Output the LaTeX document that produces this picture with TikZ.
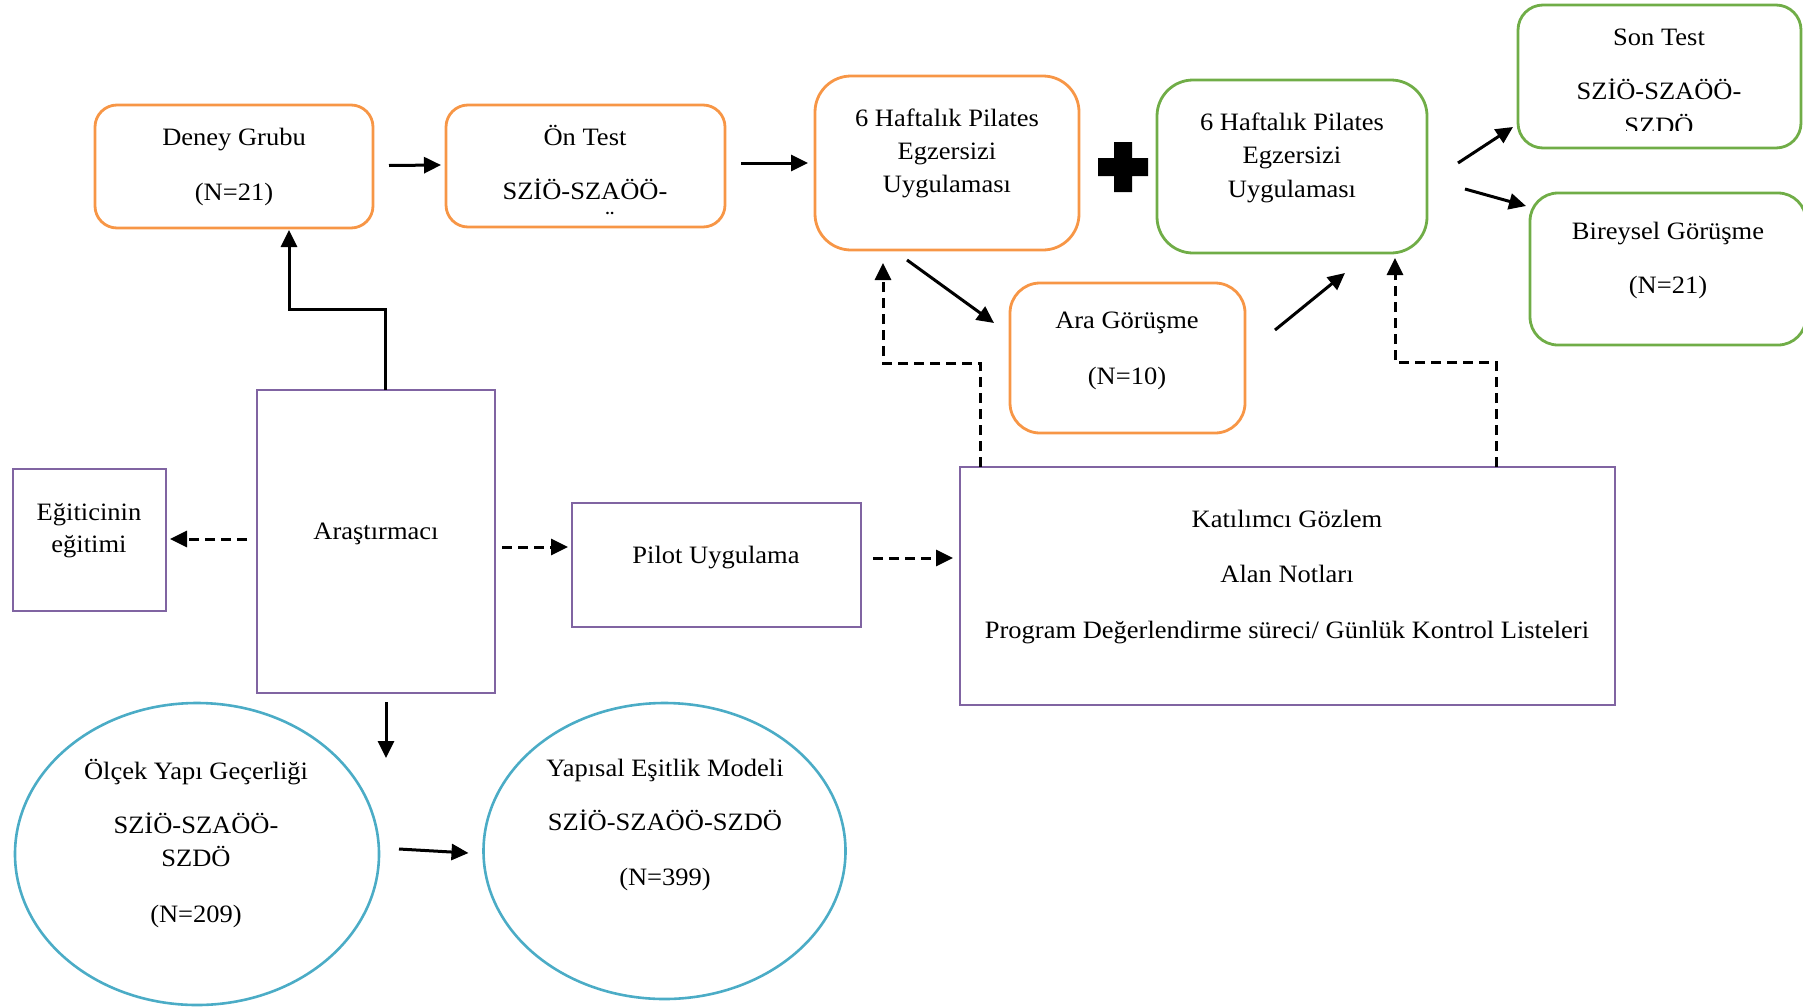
\documentclass[tikz,border=0pt]{standalone}
\usepackage{fontspec}
\setmainfont{Liberation Serif}[FakeStretch=1.06]
\usetikzlibrary{arrows.meta,calc,shapes.geometric}
\definecolor{borange}{HTML}{F79646}
\definecolor{bgreen}{HTML}{70AD47}
\definecolor{bpurple}{HTML}{8064A2}
\definecolor{bblue}{HTML}{4BACC6}
\tikzset{
  box/.style={draw, line width=2.8pt, outer sep=0pt, inner sep=0pt, fill=none},
  obox/.style={box, draw=borange, rectangle, rounded corners=#1},
  gbox/.style={box, draw=bgreen, rectangle, rounded corners=#1},
  pbox/.style={box, draw=bpurple, rectangle},
  bell/.style={box, draw=bblue, ellipse, line width=2.6pt},
  txt/.style={anchor=base, inner sep=0pt, outer sep=0pt},
  arr/.style={line width=3pt, -{Triangle[length=17pt,width=16pt]}},
  darr/.style={arr, dash pattern=on 10pt off 6pt}
}
\begin{document}
\begin{tikzpicture}[x=1pt, y=-1pt, font=\fontsize{25}{33}\selectfont]
\useasboundingbox (0,0) rectangle (1803,1007);

% ---- boxes ----
\node[obox=22pt, minimum width=278pt, minimum height=123pt] (deney) at (234,166.5) {};
\node[obox=22pt, minimum width=279pt, minimum height=122pt] (ontest) at (585.5,166) {};
\node[obox=36pt, minimum width=264pt, minimum height=174pt] (h1) at (947,163) {};
\node[gbox=36pt, minimum width=270pt, minimum height=173pt] (h2) at (1292,166.5) {};
\node[obox=30pt, minimum width=235pt, minimum height=150pt] (ara) at (1127.5,358) {};
\node[gbox=25pt, minimum width=283pt, minimum height=143pt] (son) at (1659.5,76.5) {};
\node[gbox=28pt, minimum width=276pt, minimum height=152pt] (bir) at (1668,269) {};

\node[pbox, minimum width=238pt, minimum height=303pt] (arst) at (376,541.5) {};
\node[pbox, minimum width=153pt, minimum height=142pt] (egit) at (89.5,540) {};
\node[pbox, minimum width=289pt, minimum height=124pt] (pilot) at (716.5,565) {};
\node[pbox, minimum width=655pt, minimum height=238pt] (kat) at (1287.5,586) {};

\node[bell, minimum width=364pt, minimum height=302pt] (olcek) at (197,854) {};
\node[bell, minimum width=362pt, minimum height=296pt] (yap) at (664.5,851) {};

% ---- plus sign between the two programme boxes ----
\fill (1114,142) -- (1132,142) -- (1132,158) -- (1148,158) -- (1148,176)
      -- (1132,176) -- (1132,192) -- (1114,192) -- (1114,176) -- (1098,176)
      -- (1098,158) -- (1114,158) -- cycle;

% ---- texts ----
\node[txt] (deney1) at (234,145) {Deney Grubu};
\node[txt] (deney2) at (234,200) {(N=21)};

\node[txt] (on1) at (585,145) {Ön Test};
\node[txt] (on2) at (585,199) {SZİÖ-SZAÖÖ-};
\begin{scope}
  \clip (446,100) rectangle (725,214);
  \node[txt] (on3) at (585,232) {SZDÖ};
\end{scope}

\node[txt] (ha1) at (947,126) {6 Haftalık Pilates};
\node[txt] (ha2) at (947,159) {Egzersizi};
\node[txt] (ha3) at (947,192) {Uygulaması};

\node[txt] (hb1) at (1292,130) {6 Haftalık Pilates};
\node[txt] (hb2) at (1292,163) {Egzersizi};
\node[txt] (hb3) at (1292,197) {Uygulaması};

\node[txt] (ar1) at (1127,328) {Ara Görüşme};
\node[txt] (ar2) at (1127,384) {(N=10)};

\node[txt] (so1) at (1659,45) {Son Test};
\node[txt] (so2) at (1659,99) {SZİÖ-SZAÖÖ-};
\begin{scope}
  \clip (1518,0) rectangle (1801,130);
  \node[txt] (so3) at (1659,134) {SZDÖ};
\end{scope}

\node[txt] (bi1) at (1668,239) {Bireysel Görüşme};
\node[txt] (bi2) at (1668,293) {(N=21)};

\node[txt] (as1) at (376,539) {Araştırmacı};
\node[txt] (eg1) at (89,520) {Eğiticinin};
\node[txt] (eg2) at (89,552) {eğitimi};
\node[txt] (pi1) at (716,563) {Pilot Uygulama};

\node[txt] (ka1) at (1287,527) {Katılımcı Gözlem};
\node[txt] (ka2) at (1287,582) {Alan Notları};
\node[txt] (ka3) at (1287,638) {Program Değerlendirme süreci/ Günlük Kontrol Listeleri};

\node[txt] (ol1) at (196,779) {Ölçek Yapı Geçerliği};
\node[txt] (ol2) at (196,833) {SZİÖ-SZAÖÖ-};
\node[txt] (ol3) at (196,866) {SZDÖ};
\node[txt] (ol4) at (196,922) {(N=209)};

\node[txt] (ya1) at (665,776) {Yapısal Eşitlik Modeli};
\node[txt] (ya2) at (665,830) {SZİÖ-SZAÖÖ-SZDÖ};
\node[txt] (ya3) at (665,885) {(N=399)};

% ---- solid connectors ----
\draw[arr] ($(deney.east)+(16,-1)$) -- ($(ontest.west)+(-5,-1)$);
\draw[arr] ($(ontest.east)+(16,-3)$) -- ($(h1.west)+(-7,0)$);
\draw[arr] ($(h1.south)+(-40,10)$) -- ($(ara.west)+(-16,-35)$);
\draw[arr] ($(ara.east)+(30,-28)$) -- ($(h2.south)+(53,20)$);
\draw[arr] ($(h2.east)+(31,-3.5)$) -- ($(son.west)+(-5,50.5)$);
\draw[arr] ($(h2.east)+(38,22.5)$) -- ($(bir.west)+(-4,-63)$);
\draw[arr]
  ($(arst.north)+(9,0)$) -- ++(0,-81) -| ($(deney.south)+(55,2)$);
\draw[arr] ($(arst.south)+(10,9)$) -- ($(olcek.north)+(189,55)$);
\draw[arr] ($(olcek.east)+(20,-5)$) -- ($(yap.west)+(-15,2)$);

% ---- dashed connectors ----
\draw[darr] ($(arst.west)+(-10,-2.5)$) -- ($(egit.east)+(4,-1)$);
\draw[darr] ($(arst.east)+(7,5.5)$) -- ($(pilot.west)+(-4,-18)$);
\draw[darr] ($(pilot.east)+(12,-7)$) -- ($(kat.west)+(-7,-28)$);
\draw[darr] ($(kat.north west)+(20,0)$) -- ++(0,-104) -| ($(h1.south)+(-64,13)$);
\draw[darr] ($(kat.north east)+(-119,0)$) -- ++(0,-105) -| ($(h2.south)+(103,5)$);
\end{tikzpicture}
\end{document}
